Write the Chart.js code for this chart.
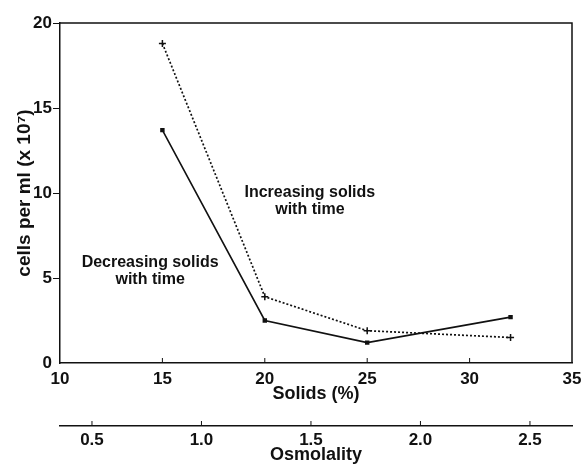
<!DOCTYPE html>
<html>
<head>
<meta charset="utf-8">
<script src="https://cdn.jsdelivr.net/npm/chart.js@4"></script>
<style>
  body { margin: 0; background: #fff; }
  #wrap { width: 581px; height: 466px; }
</style>
</head>
<body>
<div id="wrap"><canvas id="cells"></canvas></div>
<script>
// solids (%) on the x axis
const solids = [15, 20, 25, 32];
// cells per ml (x 10^7)
const increasing = [18.8, 3.9, 1.9, 1.5];
const decreasing = [13.7, 2.5, 1.2, 2.7];

const yTicks = [0, 5, 10, 15, 20];
const solidTicks = [10, 15, 20, 25, 30, 35];
const osmoTicks = [0.5, 1.0, 1.5, 2.0, 2.5];

// text notes, anchored in data units (solids, cells)
const noteText = [["Increasing solids", "with time"], ["Decreasing solids", "with time"]];
const noteAt = [[22.2, 10.0], [14.4, 5.9]];

Chart.defaults.font.family = "'Liberation Sans', Arial, sans-serif";
Chart.defaults.color = "#111";

const ink = "#111";

// box round the plot, inward tick marks on bottom axes, the two notes
const extras = {
  id: "extras",
  afterDraw(chart) {
    const { ctx, chartArea: a, scales } = chart;
    ctx.save();
    ctx.strokeStyle = ink;
    ctx.lineWidth = 1.5;
    ctx.beginPath();
    ctx.moveTo(a.left, a.top);
    ctx.lineTo(a.right, a.top);
    ctx.lineTo(a.right, a.bottom);
    ctx.stroke();

    ctx.lineWidth = 1;
    ctx.beginPath();
    scales.x.ticks.forEach(t => {
      if (t.value <= 10 || t.value >= 35) return;
      const px = scales.x.getPixelForValue(t.value);
      ctx.moveTo(px, a.bottom);
      ctx.lineTo(px, a.bottom - 5);
    });
    const s2 = scales.x2;
    s2.ticks.forEach(t => {
      const px = s2.getPixelForValue(t.value);
      ctx.moveTo(px, s2.top);
      ctx.lineTo(px, s2.top - 5);
    });
    ctx.stroke();

    ctx.fillStyle = ink;
    ctx.font = "bold 16px 'Liberation Sans', Arial, sans-serif";
    ctx.textAlign = "center";
    ctx.textBaseline = "middle";
    noteText.forEach((lines, i) => {
      const px = scales.x.getPixelForValue(noteAt[i][0]);
      const py = scales.y.getPixelForValue(noteAt[i][1]);
      lines.forEach((ln, j) => ctx.fillText(ln, px, py + j * 17));
    });
    ctx.restore();
  }
};

const noSidePad = s => { s.paddingLeft = 0; s.paddingRight = 0; };

new Chart(document.getElementById("cells"), {
  type: "line",
  data: {
    datasets: [
      {
        label: "Increasing solids with time",
        data: solids.map((s, i) => ({ x: s, y: increasing[i] })),
        borderColor: ink,
        borderWidth: 1.7,
        borderDash: [2, 2],
        pointStyle: "cross",
        pointRadius: 3.5,
        pointBorderWidth: 1.5,
        pointBorderColor: ink,
        tension: 0
      },
      {
        label: "Decreasing solids with time",
        data: solids.map((s, i) => ({ x: s, y: decreasing[i] })),
        borderColor: ink,
        borderWidth: 1.6,
        pointStyle: "rect",
        pointRadius: 2,
        pointBackgroundColor: ink,
        pointBorderColor: ink,
        tension: 0
      }
    ]
  },
  options: {
    responsive: true,
    maintainAspectRatio: false,
    animation: false,
    layout: { padding: { top: 23, right: 9, left: 0, bottom: 0 } },
    plugins: { legend: { display: false }, tooltip: { enabled: false } },
    scales: {
      x: {
        type: "linear",
        position: "bottom",
        weight: 0,
        min: 10,
        max: 35,
        afterBuildTicks: s => { s.ticks = solidTicks.map(v => ({ value: v })); },
        grid: { display: false, drawTicks: false },
        border: { display: true, color: ink, width: 1.5 },
        ticks: { padding: 6, font: { size: 17, weight: "bold" }, color: ink },
        title: {
          display: true,
          text: "Solids (%)",
          font: { size: 18, weight: "bold" },
          color: ink,
          padding: { top: 0, bottom: 21 }
        },
        afterFit: s => { s.height = 63; noSidePad(s); }
      },
      x2: {
        type: "linear",
        position: "bottom",
        weight: 1,
        min: 0.354,
        max: 2.692,
        afterBuildTicks: s => { s.ticks = osmoTicks.map(v => ({ value: v })); },
        grid: { display: false, drawTicks: false },
        border: { display: true, color: ink, width: 1.5 },
        ticks: {
          padding: 4,
          font: { size: 17, weight: "bold" },
          color: ink,
          callback: v => v.toFixed(1)
        },
        title: {
          display: true,
          text: "Osmolality",
          font: { size: 18, weight: "bold" },
          color: ink,
          padding: { top: 0, bottom: 0 }
        },
        afterFit: s => { s.height = 40; noSidePad(s); }
      },
      y: {
        min: 0,
        max: 20,
        afterBuildTicks: s => { s.ticks = yTicks.map(v => ({ value: v })); },
        grid: {
          drawOnChartArea: false,
          drawTicks: true,
          tickLength: 7,
          color: c => (c.tick && c.tick.value === 0 ? "rgba(0,0,0,0)" : ink),
          lineWidth: 1
        },
        border: { display: true, color: ink, width: 1.5 },
        ticks: { padding: 1, font: { size: 17, weight: "bold" }, color: ink },
        title: {
          display: true,
          text: "cells per ml (x 10\u2077)",
          font: { size: 19, weight: "bold" },
          color: ink,
          padding: { top: 13, bottom: 0 }
        },
        afterFit: s => { s.width = 60; }
      }
    }
  },
  plugins: [extras]
});
</script>
</body>
</html>
